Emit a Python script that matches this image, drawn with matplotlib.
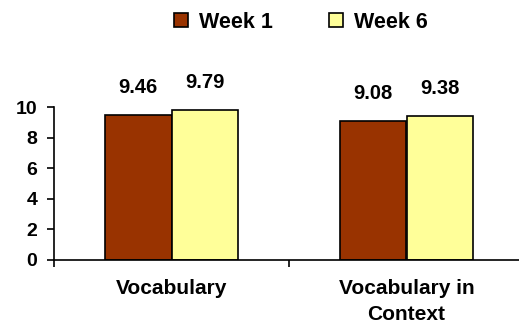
import matplotlib.pyplot as plt
import numpy as np
from matplotlib.patches import Patch

# scores per test, week 1 vs week 6
categories = ["Vocabulary", "Vocabulary in\nContext"]
week1 = [9.46, 9.08]
week6 = [9.79, 9.38]
series_names = ["Week 1", "Week 6"]
colors = ["#993300", "#FFFF99"]

plt.rcParams['font.family'] = ['Liberation Sans', 'DejaVu Sans']
plt.rcParams['font.weight'] = 'bold'

fig = plt.figure(figsize=(5.19, 3.30), dpi=100)
ax = fig.add_axes([54 / 519, 70 / 330, 470 / 519, 153 / 330])

x = np.arange(len(categories))
w = 0.285
b1 = ax.bar(x - w / 2, week1, w, color=colors[0], edgecolor='black', linewidth=1.2)
b2 = ax.bar(x + w / 2, week6, w, color=colors[1], edgecolor='black', linewidth=1.2)

for bars, vals in ((b1, week1), (b2, week6)):
    for r, v in zip(bars, vals):
        ax.annotate("%.2f" % v, (r.get_x() + r.get_width() / 2, v),
                    xytext=(0, 13), textcoords='offset points',
                    ha='center', va='bottom', fontsize=14.5, fontweight='bold',
                    annotation_clip=False)

ax.set_xlim(-0.5, 1.5)
ax.set_ylim(0, 10)
ax.set_yticks([0, 2, 4, 6, 8, 10])
ax.set_xticks([-0.5, 0.5, 1.5])
ax.set_xticklabels([])
ax.set_xticks(x, minor=True)
ax.set_xticklabels(categories, minor=True, fontsize=15, fontweight='bold',
                   linespacing=1.45)
ax.tick_params(axis='x', which='minor', length=0, pad=14)
ax.tick_params(axis='x', which='major', length=5, width=1.2, direction='out')
ax.tick_params(axis='y', length=5, width=1.2, labelsize=14, pad=7)
for t in ax.get_yticklabels():
    t.set_fontweight('bold')

for s in ('top', 'right'):
    ax.spines[s].set_visible(False)
ax.spines['left'].set_linewidth(1.2)
ax.spines['bottom'].set_linewidth(1.2)

handles = [Patch(facecolor=c, edgecolor='black', linewidth=1.2) for c in colors]
fig.legend(handles, series_names, loc='center', bbox_to_anchor=(301 / 519, 1 - 22 / 330),
           ncol=2, frameon=False, handlelength=0.65, handleheight=0.65,
           handletextpad=0.5, columnspacing=2.6, prop={'weight': 'bold', 'size': 15.5})

fig.savefig("out.png", dpi=100)
